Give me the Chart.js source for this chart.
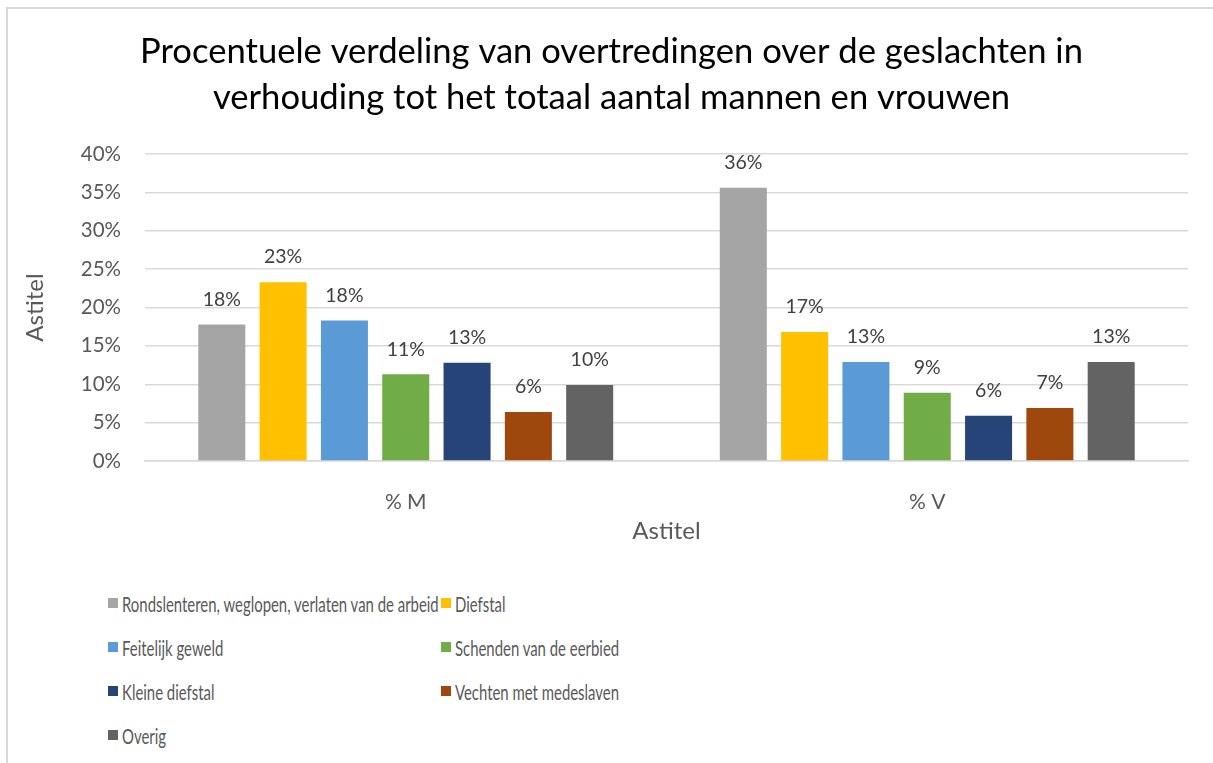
<!DOCTYPE html>
<html>
<head>
<meta charset="utf-8">
<script src="https://cdn.jsdelivr.net/npm/chart.js@4"></script>
<style>
  html, body { margin: 0; padding: 0; background: #fff; }
  body { width: 1213px; height: 763px; position: relative; overflow: hidden; font-family: Lato, "Noto Sans", sans-serif; }
  #kader { position: absolute; left: 6px; top: 7px; right: -4px; bottom: -4px; border-left: 2px solid #D9D9D9; border-top: 2px solid #D9D9D9; }
  #wrap { position: absolute; left: 0; top: 0; width: 1213px; height: 560px; }
  #legenda { position: absolute; left: 108px; top: 581px; width: 800px; display: grid; grid-template-columns: 333px 400px; grid-auto-rows: 44px; }
  .item { display: flex; align-items: center; font-size: 21px; color: #595959; white-space: nowrap; }
  .vak { width: 10px; height: 10px; margin-right: 4px; flex: none; }
  .tekst { display: inline-block; transform: scaleX(0.71); transform-origin: left center; }
</style>
</head>
<body>
<div id="kader"></div>
<div id="wrap"><canvas id="grafiek"></canvas></div>
<div id="legenda"></div>
<script>
// categorieën en reeksen
const categorieen = ['% M', '% V'];
const overtredingen = [
    'Rondslenteren, weglopen, verlaten van de arbeid',
    'Diefstal',
    'Feitelijk geweld',
    'Schenden van de eerbied',
    'Kleine diefstal',
    'Vechten met medeslaven',
    'Overig'
];
const kleuren = ['#A5A5A5', '#FFC000', '#5B9BD5', '#70AD47', '#264478', '#9E480E', '#636363'];

// percentages per overtreding: [% M, % V]
const rondslenteren = [17.8, 35.6];
const diefstal = [23.3, 16.8];
const feitelijkGeweld = [18.3, 12.9];
const schenden = [11.3, 8.9];
const kleineDiefstal = [12.8, 5.9];
const vechten = [6.4, 6.9];
const overig = [9.9, 12.9];

const yTicks = [0, 5, 10, 15, 20, 25, 30, 35, 40];

const reeksen = [rondslenteren, diefstal, feitelijkGeweld, schenden, kleineDiefstal, vechten, overig];

const FONT = 'Lato, "Noto Sans", sans-serif';

// labels boven de staven
const waardeLabels = {
    id: 'waardeLabels',
    afterDatasetsDraw(chart) {
        const ctx = chart.ctx;
        ctx.save();
        ctx.font = '19.5px ' + FONT;
        ctx.fillStyle = '#404040';
        ctx.textAlign = 'center';
        ctx.textBaseline = 'middle';
        chart.data.datasets.forEach((ds, i) => {
            const meta = chart.getDatasetMeta(i);
            meta.data.forEach((bar, j) => {
                ctx.fillText(Math.round(ds.data[j]) + '%', bar.x, bar.y - 25);
            });
        });
        ctx.restore();
    }
};

const ctx = document.getElementById('grafiek').getContext('2d');
const grafiek = new Chart(ctx, {
    type: 'bar',
    data: {
        labels: categorieen,
        datasets: reeksen.map((r, i) => ({
            label: overtredingen[i],
            data: r,
            backgroundColor: kleuren[i],
            categoryPercentage: 0.823,
            barPercentage: 0.767
        }))
    },
    options: {
        responsive: true,
        maintainAspectRatio: false,
        animation: false,
        layout: { padding: { left: 35, right: 25, top: 0, bottom: 0 } },
        plugins: {
            legend: { display: false },
            tooltip: { enabled: false },
            title: {
                display: true,
                text: ['Procentuele verdeling van overtredingen over de geslachten in',
                       'verhouding tot het totaal aantal mannen en vrouwen'],
                color: '#000',
                font: { family: FONT, size: 34.6, weight: 'normal', lineHeight: 1.33 },
                padding: { top: 29, bottom: 33 }
            }
        },
        scales: {
            x: {
                grid: { display: false },
                border: { color: '#D9D9D9', width: 1.5 },
                ticks: { color: '#595959', font: { family: FONT, size: 21 }, padding: 21 },
                title: {
                    display: true, text: 'Astitel', color: '#595959',
                    font: { family: FONT, size: 24, lineHeight: 1.2 },
                    padding: { top: 0, bottom: 14.6 }
                },
                afterFit(scale) { scale.height = 99; }
            },
            y: {
                min: 0,
                max: 40,
                afterBuildTicks(scale) { scale.ticks = yTicks.map(v => ({ value: v })); },
                grid: { color: '#D9D9D9', lineWidth: 1.5, drawTicks: false },
                border: { display: false },
                ticks: {
                    color: '#595959', font: { family: FONT, size: 20.5 }, padding: 24,
                    callback: v => v + '%'
                },
                title: {
                    display: true, text: 'Astitel', color: '#595959',
                    font: { family: FONT, size: 24, lineHeight: 1.2 },
                    padding: { top: -14.4, bottom: 0 }
                },
                afterFit(scale) { scale.width = 110; }
            }
        }
    },
    plugins: [waardeLabels]
});

// legenda in twee kolommen, zoals in Excel
const items = grafiek.options.plugins.legend.labels.generateLabels(grafiek);
const legenda = document.getElementById('legenda');
items.forEach(it => {
    const div = document.createElement('div');
    div.className = 'item';
    div.innerHTML = '<span class="vak" style="background:' + it.fillStyle + '"></span><span class="tekst">' + it.text + '</span>';
    legenda.appendChild(div);
});
</script>
</body>
</html>
